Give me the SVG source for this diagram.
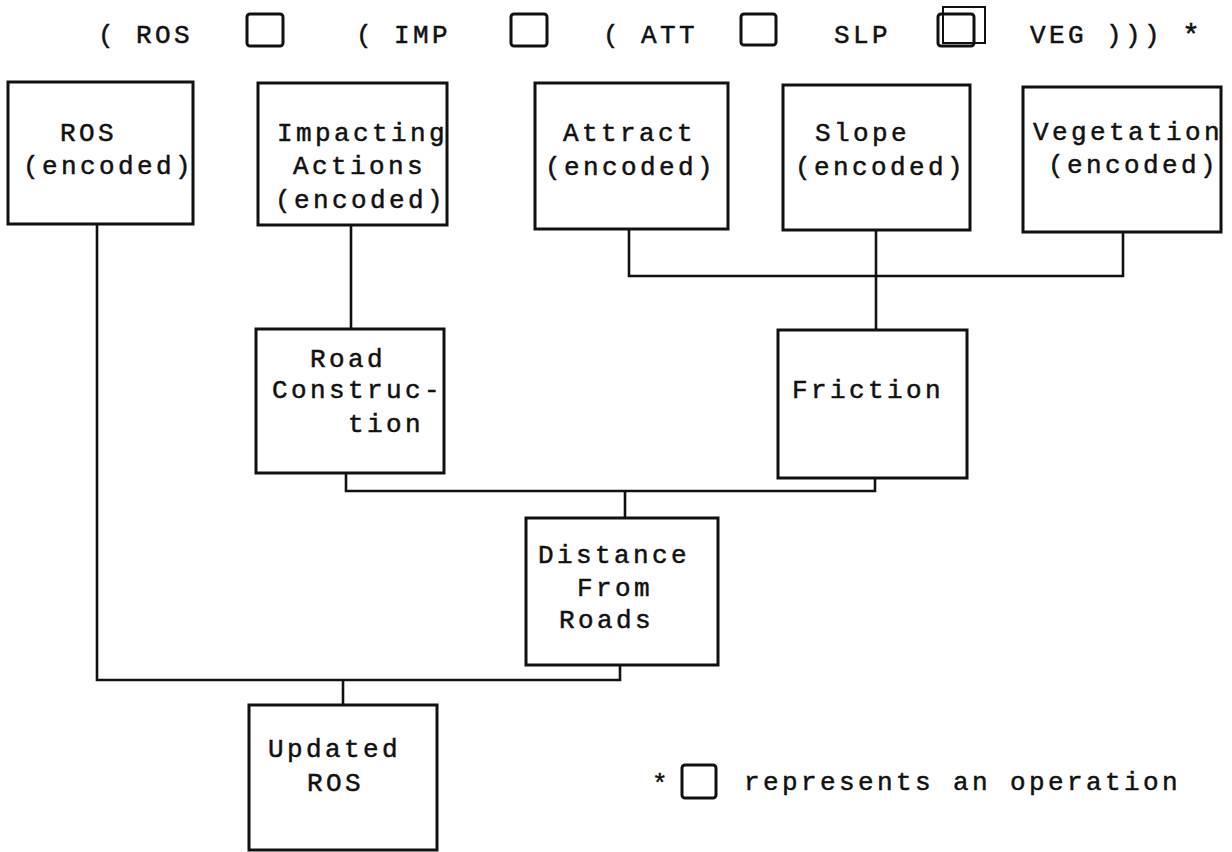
<svg xmlns="http://www.w3.org/2000/svg" width="1232" height="852" viewBox="0 0 1232 852">
<style>
.t{font-family:"Liberation Mono","Courier New",monospace;font-size:26px;letter-spacing:3.4px;fill:#111;stroke:#111;stroke-width:0.5px}
.b{fill:none;stroke:#111;stroke-width:3}
.c{fill:none;stroke:#111;stroke-width:2.6}
.op{fill:none;stroke:#111;stroke-width:3;}
</style>
<rect width="1232" height="852" fill="#fff"/>
<g id="formula">
<text class="t" x="98" y="43">( ROS</text>
<rect class="op" x="247" y="14" width="36" height="32" rx="3"/>
<text class="t" x="356" y="43">( IMP</text>
<rect class="op" x="511" y="14" width="36" height="32" rx="3"/>
<text class="t" x="603" y="43">( ATT</text>
<rect class="op" x="741" y="14" width="35" height="31" rx="3"/>
<text class="t" x="834" y="43">SLP</text>
<rect class="op" x="938" y="14" width="36" height="32" rx="3"/>
<rect x="943" y="7" width="42" height="36" fill="none" stroke="#111" stroke-width="2"/>
<text class="t" x="1030" y="43">VEG )))</text>
<text class="t" x="1182" y="45" style="font-size:30px">*</text>
</g>
<g id="connectors">
<path class="c" d="M97,224 V680 H620 V665"/>
<path class="c" d="M343,680 V705"/>
<path class="c" d="M351,225 V329"/>
<path class="c" d="M629,229 V276 H1123 V232"/>
<path class="c" d="M876,230 V330"/>
<path class="c" d="M346,473 V491 H875 V478"/>
<path class="c" d="M625,491 V518"/>
</g>
<g id="ros">
<rect class="b" x="8" y="82" width="185" height="142"/>
<text class="t" x="60" y="141">ROS</text>
<text class="t" x="23" y="174">(encoded)</text>
</g>
<g id="impacting">
<rect class="b" x="258" y="83" width="189" height="142"/>
<text class="t" x="277" y="141">Impacting</text>
<text class="t" x="293" y="174">Actions</text>
<text class="t" x="275" y="208">(encoded)</text>
</g>
<g id="attract">
<rect class="b" x="535" y="83" width="193" height="146"/>
<text class="t" x="563" y="141">Attract</text>
<text class="t" x="545" y="175">(encoded)</text>
</g>
<g id="slope">
<rect class="b" x="783" y="85" width="187" height="145"/>
<text class="t" x="815" y="141">Slope</text>
<text class="t" x="795" y="175">(encoded)</text>
</g>
<g id="vegetation">
<rect class="b" x="1023" y="87" width="198" height="145"/>
<text class="t" x="1033" y="140">Vegetation</text>
<text class="t" x="1048" y="173">(encoded)</text>
</g>
<g id="road">
<rect class="b" x="256" y="329" width="188" height="144"/>
<text class="t" x="310" y="367">Road</text>
<text class="t" x="272" y="398">Construc-</text>
<text class="t" x="348" y="432">tion</text>
</g>
<g id="friction">
<rect class="b" x="778" y="330" width="189" height="148"/>
<text class="t" x="792" y="398">Friction</text>
</g>
<g id="distance">
<rect class="b" x="526" y="518" width="192" height="147"/>
<text class="t" x="538" y="563">Distance</text>
<text class="t" x="577" y="596">From</text>
<text class="t" x="559" y="628">Roads</text>
</g>
<g id="updated">
<rect class="b" x="249" y="705" width="188" height="145"/>
<text class="t" x="268" y="757">Updated</text>
<text class="t" x="307" y="791">ROS</text>
</g>
<g id="legend">
<text class="t" x="652" y="792">*</text>
<rect class="op" x="682" y="765" width="34" height="33" rx="3"/>
<text class="t" x="744" y="790">represents an operation</text>
</g>
</svg>
